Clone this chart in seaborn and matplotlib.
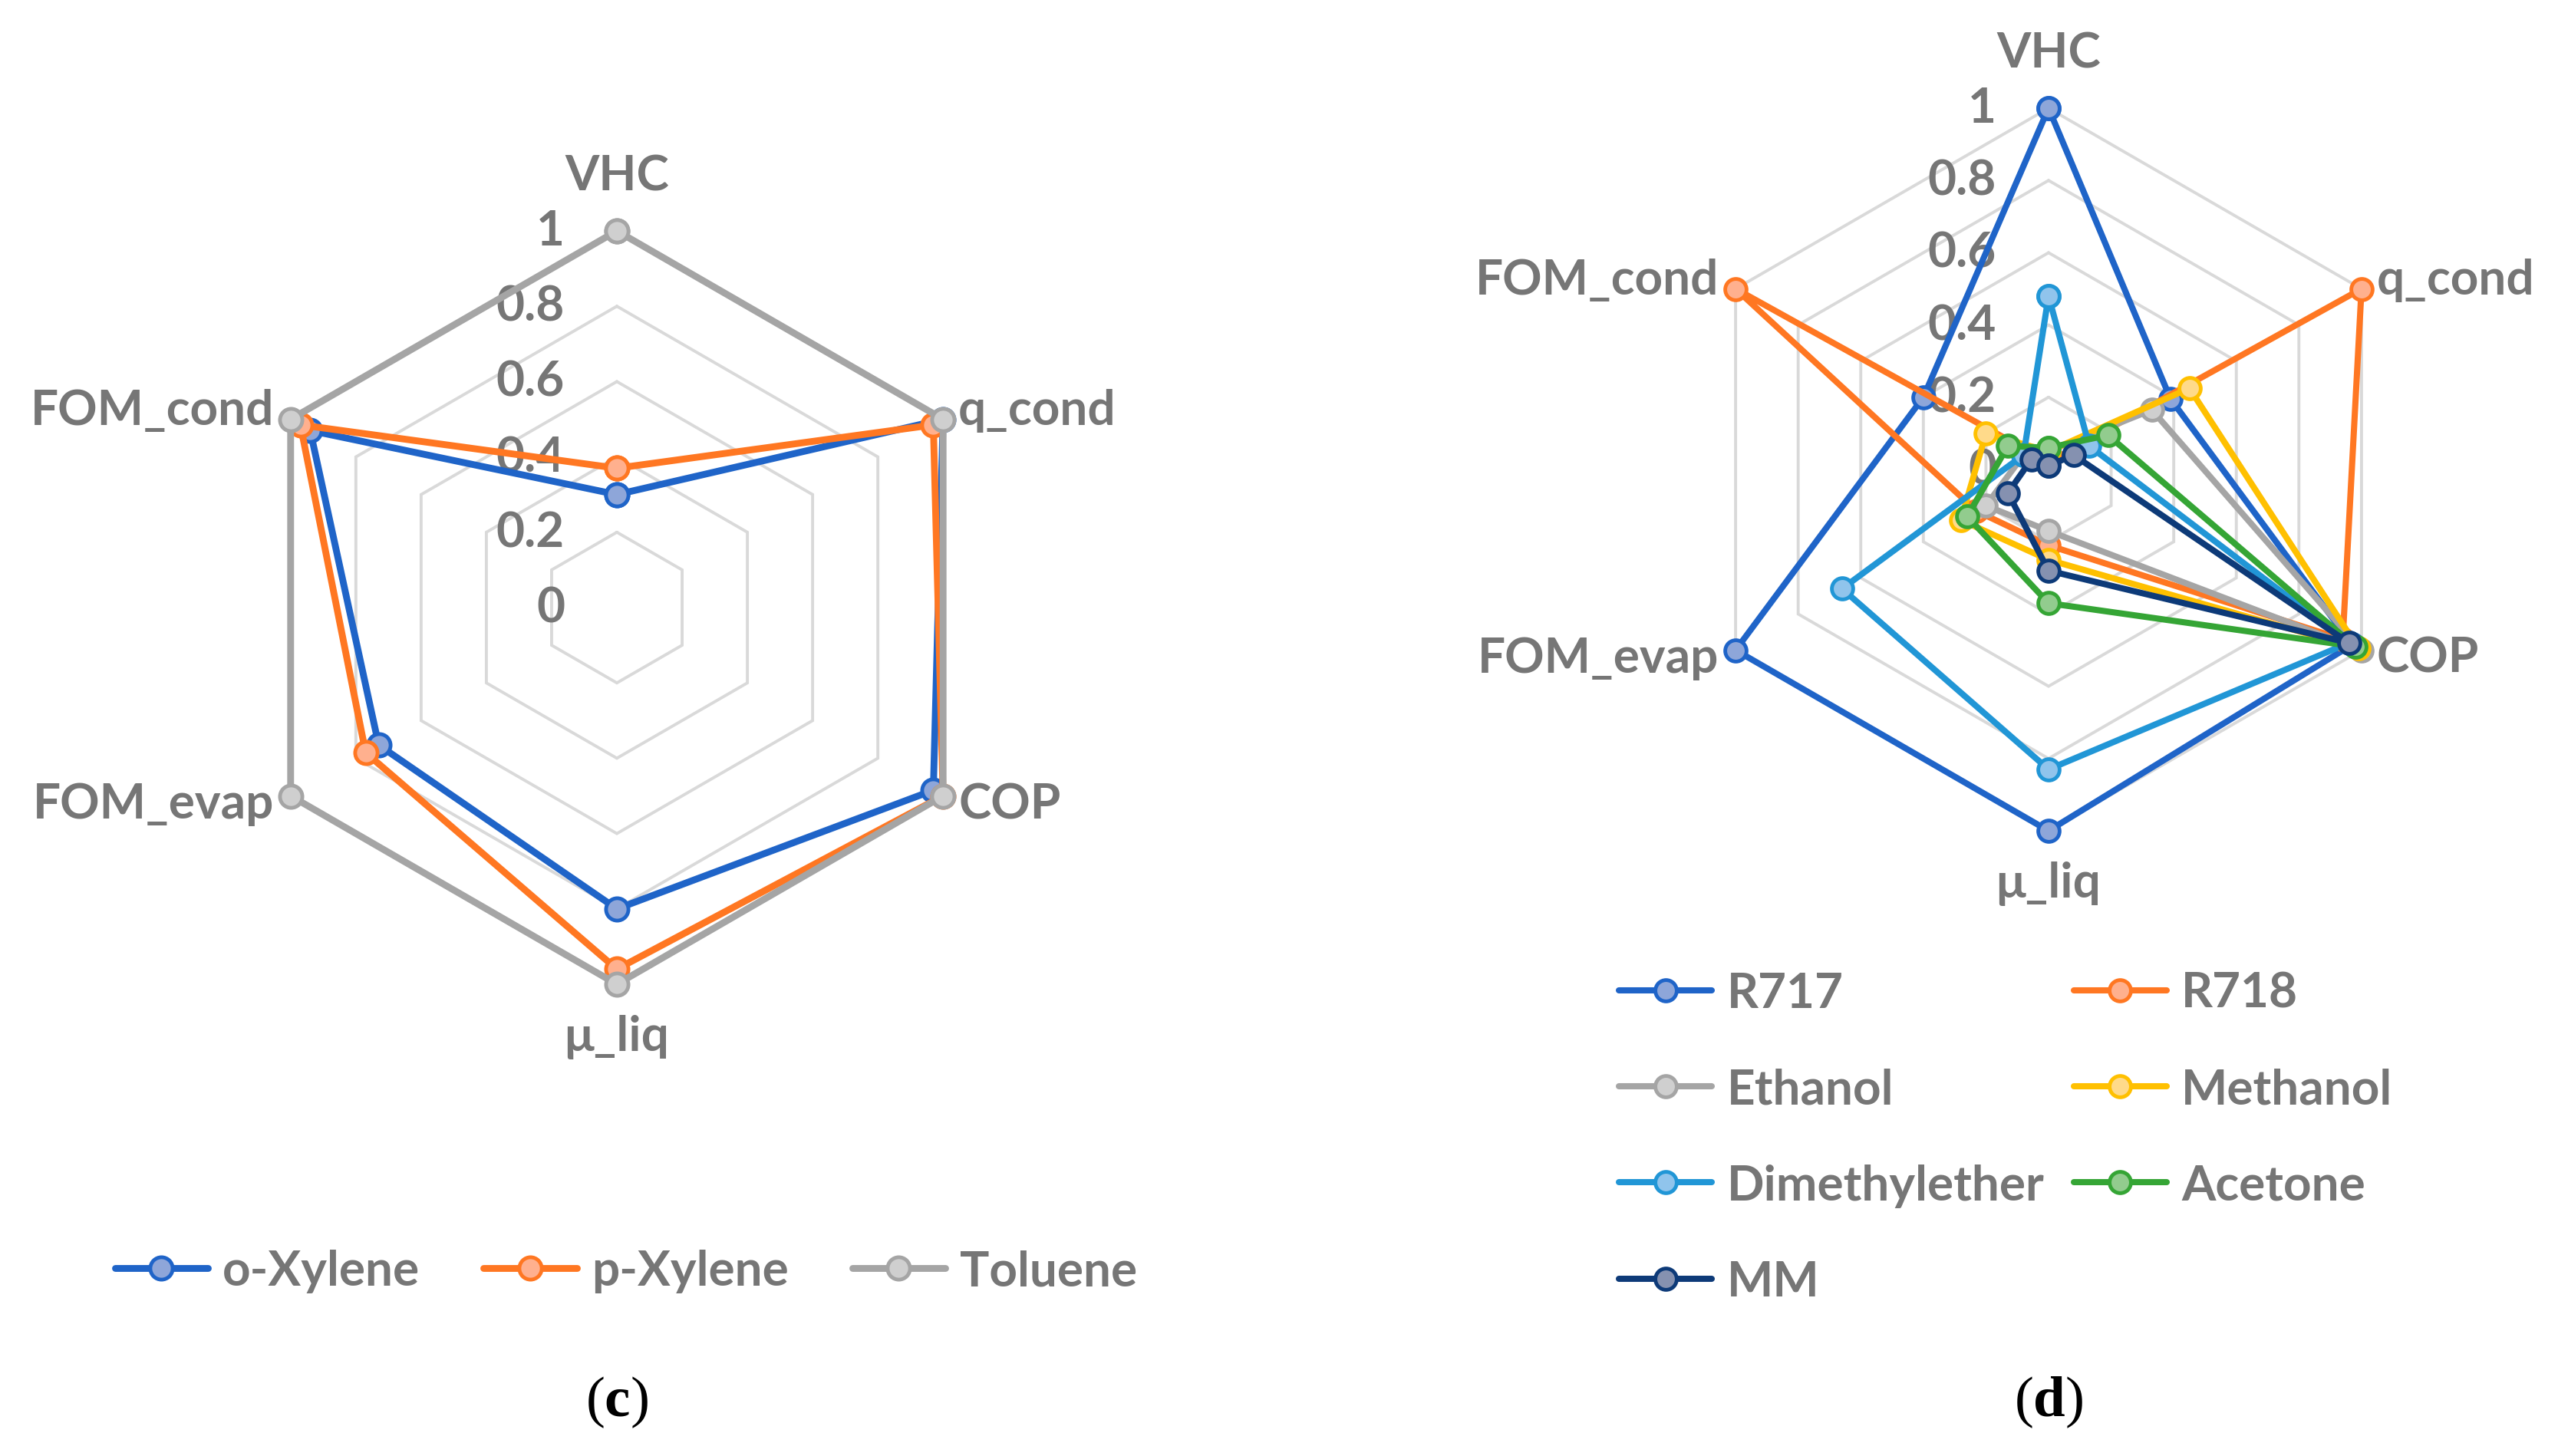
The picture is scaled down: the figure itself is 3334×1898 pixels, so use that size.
import numpy as np
import pandas as pd
import matplotlib
matplotlib.use("Agg")
import matplotlib.pyplot as plt
import seaborn as sns

# ---------------- data ----------------
categories = ["VHC", "q_cond", "COP", "μ_liq", "FOM_evap", "FOM_cond"]
ticks = [0, 0.2, 0.4, 0.6, 0.8, 1]

# panel (c)
c_names = ["o-Xylene", "p-Xylene", "Toluene"]
o_xylene = [0.30, 1.00, 0.97, 0.80, 0.73, 0.94]
p_xylene = [0.37, 0.97, 1.00, 0.96, 0.77, 0.97]
toluene = [1.00, 1.00, 1.00, 1.00, 1.00, 1.00]

# panel (d)
d_names = ["R717", "R718", "Ethanol", "Methanol", "Dimethylether", "Acetone", "MM"]
r717 = [1.00, 0.39, 0.97, 1.00, 1.00, 0.40]
r718 = [0.02, 1.00, 0.94, 0.21, 0.23, 1.00]
ethanol = [0.05, 0.33, 1.00, 0.17, 0.20, 0.08]
methanol = [0.05, 0.45, 0.99, 0.25, 0.28, 0.20]
dimethylether = [0.48, 0.13, 0.96, 0.83, 0.66, 0.08]
acetone = [0.06, 0.19, 0.98, 0.37, 0.26, 0.13]
mm = [0.01, 0.08, 0.96, 0.28, 0.13, 0.055]

# ---------------- style ----------------
W, H = 3334, 1899
DPI = 100
TXT = "#767676"
GRID = "#D9D9D9"
c_colors = ["#1F64C8", "#FF7722", "#A5A5A5"]
c_faces = ["#8EA6D9", "#FFB08E", "#CFCFCF"]
d_colors = ["#1F64C8", "#FF7722", "#A5A5A5", "#FFC000", "#2196D6", "#35A535", "#0D3A78"]
d_faces = ["#8EA6D9", "#FFB08E", "#CFCFCF", "#FFDA8A", "#90C4EC", "#92CC8E", "#8591B0"]

sns.set_theme(style="white")
plt.rcParams["font.family"] = ["Lato", "DejaVu Sans"]
plt.rcParams["mathtext.fontset"] = "custom"
plt.rcParams["mathtext.bf"] = "Liberation Serif:bold"
plt.rcParams["mathtext.rm"] = "Liberation Serif"

fig = plt.figure(figsize=(W / DPI, H / DPI), dpi=DPI)
fig.patch.set_facecolor("white")

n = len(categories)
theta = np.linspace(0, 2 * np.pi, n, endpoint=False)
theta_closed = np.append(theta, 2 * np.pi)

FS = 46


def radar(center, radius, names, series, colors, faces, lw, ms):
    cx, cy = center
    ax = fig.add_axes([(cx - radius) / W, (H - cy - radius) / H,
                       2 * radius / W, 2 * radius / H], projection="polar")
    ax.set_theta_zero_location("N")
    ax.set_theta_direction(-1)
    ax.set_ylim(0, 1)
    ax.grid(False)
    ax.set_xticks([])
    ax.set_yticks([])
    ax.spines["polar"].set_visible(False)
    ax.set_facecolor("none")

    # hexagonal grid rings
    for r in ticks[1:]:
        ax.plot(theta_closed, [r] * (n + 1), color=GRID, lw=2.8, zorder=1,
                clip_on=False, solid_joinstyle="miter")

    # value labels
    for r in ticks:
        ax.annotate(f"{r:g}", xy=(0, r), xytext=(-68, 0), textcoords="offset pixels",
                    ha="right", va="center", fontsize=FS, fontweight="bold",
                    color=TXT, zorder=2, annotation_clip=False)

    # category labels
    offs = [(0, 72, "center"), (20, 12, "left"), (20, -10, "left"),
            (0, -68, "center"), (-22, -10, "right"), (-22, 12, "right")]
    for th, lab, (dx, dy, ha) in zip(theta, categories, offs):
        ax.annotate(lab, xy=(th, 1), xytext=(dx, dy), textcoords="offset pixels",
                    ha=ha, va="center", fontsize=FS, fontweight="bold", color=TXT,
                    annotation_clip=False)

    handles = []
    for i, (name, vals, col, face) in enumerate(zip(names, series, colors, faces)):
        df = pd.DataFrame({"theta": theta_closed, "value": list(vals) + [vals[0]]})
        nbefore = len(ax.lines)
        sns.lineplot(data=df, x="theta", y="value", sort=False, estimator=None,
                     color=col, linewidth=lw, marker="o", markersize=ms,
                     markerfacecolor=face, markeredgecolor=col, markeredgewidth=3.5,
                     clip_on=False, ax=ax, zorder=3 + i, solid_joinstyle="round",
                     solid_capstyle="round")
        line = ax.lines[nbefore]
        line.set_label(name)
        handles.append(line)
    ax.set_xlabel("")
    ax.set_ylabel("")
    if ax.get_legend() is not None:
        ax.get_legend().remove()
    return ax, handles


ax_c, h_c = radar((804, 793), 491, c_names, [o_xylene, p_xylene, toluene],
                  c_colors, c_faces, 6.4, 21)
ax_d, h_d = radar((2670, 613), 471, d_names,
                  [r717, r718, ethanol, methanol, dimethylether, acetone, mm],
                  d_colors, d_faces, 5.8, 20)

prop = {"family": "Lato", "weight": "bold", "size": FS}
leg_c = fig.legend(h_c, c_names, loc="center", bbox_to_anchor=(816 / W, (H - 1658) / H),
                   ncol=3, frameon=False, prop=prop, handlelength=1.9,
                   handletextpad=0.3, columnspacing=1.3, borderpad=0,
                   borderaxespad=0, labelcolor=TXT)

# row-major ordering for the two-column legend
order = [0, 2, 4, 6, 1, 3, 5]
leg_d = fig.legend([h_d[i] for i in order], [d_names[i] for i in order],
                   loc="upper left", bbox_to_anchor=(2110 / W, (H - 1267) / H),
                   ncol=2, frameon=False, prop=prop, handlelength=1.9,
                   handletextpad=0.3, columnspacing=0.6, labelspacing=1.07,
                   borderpad=0, borderaxespad=0, labelcolor=TXT)

fig.text(804 / W, (H - 1828) / H, r"($\mathbf{c}$)", ha="center", va="center",
         fontsize=54, family="Liberation Serif", color="black")
fig.text(2670 / W, (H - 1828) / H, r"($\mathbf{d}$)", ha="center", va="center",
         fontsize=54, family="Liberation Serif", color="black")

fig.savefig("out.png", dpi=DPI, facecolor="white")
